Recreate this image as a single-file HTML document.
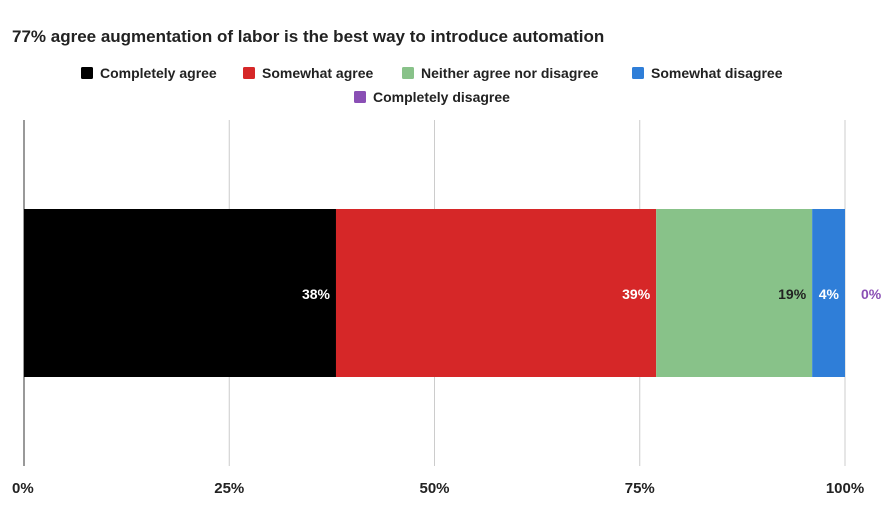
<!DOCTYPE html>
<html><head><meta charset="utf-8"><style>
body{margin:0;background:#fff;font-family:"Liberation Sans",Arial,sans-serif;}
svg text{font-family:"Liberation Sans",Arial,sans-serif;font-weight:bold;}
</style></head><body>
<svg id="c" width="890" height="522">
<text x="12" y="42" font-size="17" fill="#222">77% agree augmentation of labor is the best way to introduce automation</text>
<g id="grid"></g>
<g id="bars"></g>
<g id="legend"></g>
<g id="ticks"></g>
</svg>
<script>
const categories=["Completely agree","Somewhat agree","Neither agree nor disagree","Somewhat disagree","Completely disagree"];
const values=[38,39,19,4,0];
const colors=["#000000","#d62728","#88c289","#2f7ed8","#8a4fb5"];
const labelColors=["#fff","#fff","#222","#fff","#8a4fb5"];
const tickValues=[0,25,50,75,100];
const tickLabels=["0%","25%","50%","75%","100%"];
const NS="http://www.w3.org/2000/svg";
const x0=24,x1=845,yTop=120,yBot=466,barY=209,barH=168;
const xs=v=>x0+(x1-x0)*v/100;
function mk(t,a,p){const e=document.createElementNS(NS,t);for(const k in a)e.setAttribute(k,a[k]);p.appendChild(e);return e;}
const grid=document.getElementById('grid'),ticks=document.getElementById('ticks');
tickValues.forEach((v,i)=>{
  const l=mk('line',{x1:xs(v),x2:xs(v),y1:yTop,y2:yBot,stroke:i==0?'#333':'#ccc','stroke-width':1},grid);
  
  
  const t=mk('text',{x:xs(v),y:493,'font-size':15,fill:'#222','text-anchor':i==0?'start':(i==4?'middle':'middle')},ticks);
  if(i==0)t.setAttribute('x',xs(v)-12);
  t.textContent=tickLabels[i];
  
  
});
const bars=document.getElementById('bars');
let cum=0;
values.forEach((v,i)=>{
  const r=mk('rect',{x:xs(cum),y:barY,width:xs(cum+v)-xs(cum),height:barH,fill:colors[i]},bars);
  
  
  cum+=v;
  const t=mk('text',{x:v>0?xs(cum)-6:xs(cum)+16,y:299,'font-size':14,fill:labelColors[i],'text-anchor':v>0?'end':'start'},bars);
  t.textContent=v+'%';
  
  
});
const legendPos=[[81,73],[243,73],[402,73],[632,73],[354,97]];
const lg=document.getElementById('legend');
categories.forEach((c,i)=>{
  const g=mk('g',{},lg);
  
  
  const [px,py]=legendPos[i];
  mk('rect',{x:px,y:py-6,width:12,height:12,rx:1.5,fill:colors[i]},g);
  const t=mk('text',{x:px+19,y:py+5,'font-size':14,fill:'#222'},g);
  t.textContent=c;
});
</script>
</body></html>
